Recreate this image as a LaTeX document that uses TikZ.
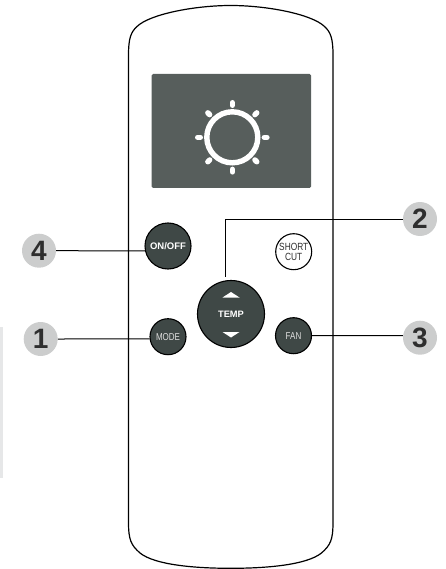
\documentclass[tikz,border=0pt]{standalone}
\usepackage{fontspec}
\setmainfont{Liberation Sans}
\newfontfamily\narrowfont[FakeStretch=0.8]{Liberation Sans}
\definecolor{screengray}{HTML}{575E5C}
\definecolor{keygray}{HTML}{3F4846}
\definecolor{badgegray}{HTML}{CCCDCD}
\definecolor{stripgray}{HTML}{E6E7E8}
\definecolor{numgray}{HTML}{2E2E2E}
\tikzset{
  keyround/.style={circle, draw=black, line width=1.1pt, fill=keygray, inner sep=0pt, align=center},
  badge/.style={circle, fill=badgegray, text=numgray, minimum size=34pt, inner sep=0pt, font=\fontsize{28}{28}\selectfont\bfseries},
  leader/.style={line width=1pt, black},
  ray/.style={white, line width=5.4pt, line cap=round}
}

\begin{document}
\begin{tikzpicture}[x=1pt, y=-1pt]
\useasboundingbox (0,0) rectangle (446,569);
\fill[stripgray] (0,327) rectangle (3.3,478);
\draw[line width=1.2pt] (128.5,55) .. controls (128.5,38) and (131,32) .. (137,26.5)
  .. controls (150,14) and (195,5.5) .. (230.75,5.5)
  .. controls (266.5,5.5) and (311.5,14) .. (324.5,26.5)
  .. controls (330.5,32) and (333,38) .. (333,55)
  -- (333,522) .. controls (333,540) and (330.5,545) .. (321.5,553)
  .. controls (306.5,565) and (266.5,568.3) .. (230.75,568.3)
  .. controls (195,568.3) and (155,565) .. (140,553)
  .. controls (131,545) and (128.5,540) .. (128.5,522) -- cycle;
\fill[screengray, rounded corners=1.5pt] (151.5,74) rectangle (311,188);
\draw[white, line width=5.4pt] (232.3,137.3) circle (25.5);
\foreach \ang in {0,45,...,315}
  \draw[ray] (232.3,137.3) ++(\ang:32) -- ++(\ang:2.6);

\node[keyround, minimum size=46pt, text=white, font=\fontsize{9.5}{9.5}\selectfont\bfseries] (onoff) at (168,246) {ON/OFF};
\node[keyround, minimum size=36pt, text=white!88!black, font=\fontsize{10}{10}\narrowfont] (mode) at (168,336.7) {MODE};
\node[keyround, minimum size=67pt, text=white, font=\fontsize{9.3}{9.3}\selectfont\bfseries] (temp) at (231,314) {TEMP};
\node[keyround, minimum size=36pt, text=white!88!black, font=\fontsize{10}{10}\narrowfont] (fan) at (293.5,335.7) {FAN};
\node[keyround, minimum size=36pt, fill=white, text=numgray, font=\fontsize{10.4}{10.5}\narrowfont] (shortcut) at (293.7,251.7) {SHORT\\CUT};
\fill[white] (222.5,297.5) -- (231,292) -- (239.5,297.5) -- cycle;
\fill[white] (222.5,332) -- (231,337.5) -- (239.5,332) -- cycle;

\node[badge] (num4) at (39,250.7) {4};
\node[badge] (num1) at (40.7,339) {1};
\node[badge] (num2) at (420,219) {2};
\node[badge] (num3) at (420,337.7) {3};

\draw[leader] (num4.east) -- (onoff.192);
\draw[leader] (num1.east) -- (mode.187);
\draw[leader] (num3.173) -- (fan.east);
\draw[leader, shorten <=3.5pt] (temp.100) |- (num2.west);
\end{tikzpicture}
\end{document}
